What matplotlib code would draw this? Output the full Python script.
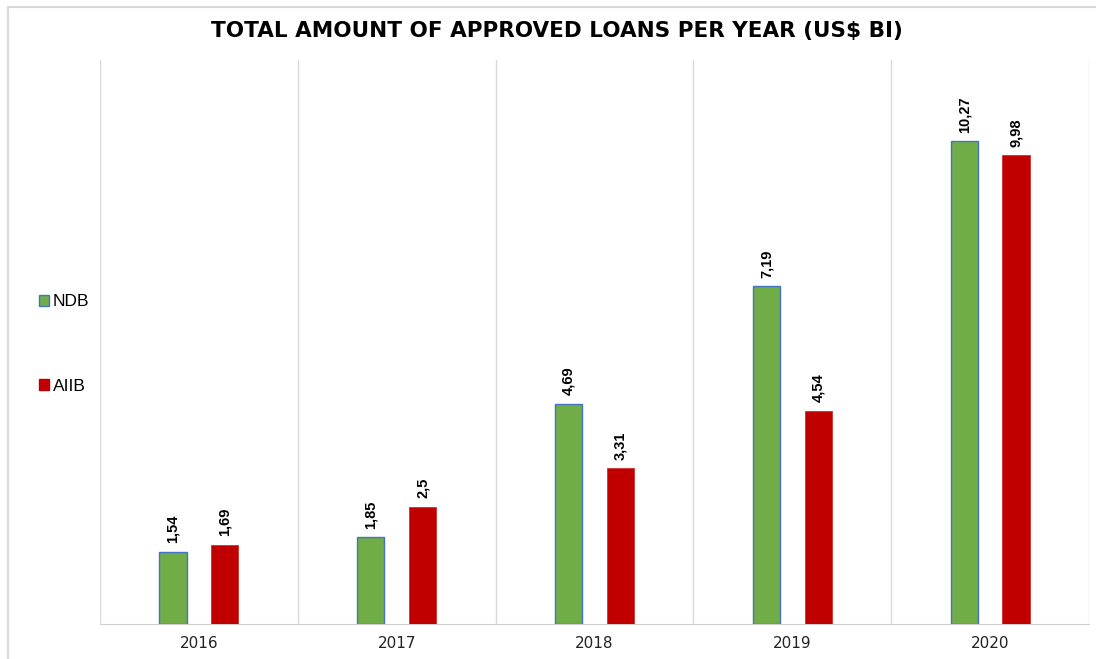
import numpy as np
import matplotlib.pyplot as plt
from matplotlib.lines import Line2D
from matplotlib.patches import Patch


years = ['2016', '2017', '2018', '2019', '2020']
ndb = [1.54, 1.85, 4.69, 7.19, 10.27]
aiib = [1.69, 2.5, 3.31, 4.54, 9.98]
ndb_labels = ['1,54', '1,85', '4,69', '7,19', '10,27']
aiib_labels = ['1,69', '2,5', '3,31', '4,54', '9,98']


def plot_chart():
    plt.rcParams['font.family'] = ['Liberation Sans', 'DejaVu Sans']

    fig = plt.figure(figsize = (10.96, 6.59), dpi = 100)
    ax = fig.add_axes([100 / 1096, 35 / 659, 989 / 1096, 564 / 659])

    x = np.arange(len(years))
    width = 0.137
    offset = 0.131

    ax.bar(x - offset, ndb, width, color = '#70AD47', edgecolor = '#4472C4', linewidth = 1, zorder = 3)
    ax.bar(x + offset, aiib, width, color = '#C00000', edgecolor = '#D0302F', linewidth = 0.6, zorder = 3)

    for i in range(len(years)):
        ax.annotate(ndb_labels[i], (x[i] - offset, ndb[i]), xytext = (0, 6), textcoords = 'offset points',
                    rotation = 90, ha = 'center', va = 'bottom', fontsize = 10.5, fontweight = 'bold')
        ax.annotate(aiib_labels[i], (x[i] + offset, aiib[i]), xytext = (0, 6), textcoords = 'offset points',
                    rotation = 90, ha = 'center', va = 'bottom', fontsize = 10.5, fontweight = 'bold')

    ax.set_xlim(-0.5, len(years) - 0.5)
    ax.set_ylim(0, 12)
    ax.set_xticks(x)
    ax.set_xticklabels(years, fontsize = 11, color = '#222222', family = 'DejaVu Sans')
    ax.set_xticks(np.arange(-0.5, len(years)), minor = True)
    ax.tick_params(axis = 'x', which = 'both', length = 0, pad = 9)
    ax.set_yticks([])
    ax.grid(which = 'minor', axis = 'x', color = '#d9d9d9', linewidth = 1, zorder = 0)

    for side in ['top', 'left', 'right']:
        ax.spines[side].set_visible(False)
    ax.spines['bottom'].set_color('#d0d0d0')

    fig.text(557 / 1096, 1 - 31 / 659, 'TOTAL AMOUNT OF APPROVED LOANS PER YEAR (US$ BI)',
             ha = 'center', va = 'center', fontsize = 15.5, fontweight = 'bold', family = 'DejaVu Sans')

    handles = [Patch(facecolor = '#70AD47', edgecolor = '#4472C4'),
               Patch(facecolor = '#C00000', edgecolor = '#C00000')]
    fig.legend(handles, ['NDB', 'AIIB'], loc = 'center left', bbox_to_anchor = (23 / 1096, 1 - 344 / 659),
               frameon = False, fontsize = 12.5, handlelength = 0.6, handleheight = 0.6, handletextpad = 0.2,
               labelspacing = 4.0)

    # light frame (top and left only, as in the screenshot)
    fig.lines.append(Line2D([8 / 1096, 8 / 1096, 1], [0, 1 - 7 / 659, 1 - 7 / 659], transform = fig.transFigure,
                            color = '#d9d9d9', linewidth = 1.5))

    plt.savefig('out.png', dpi = 100)
    plt.close()


if __name__ == "__main__":
    plot_chart()
